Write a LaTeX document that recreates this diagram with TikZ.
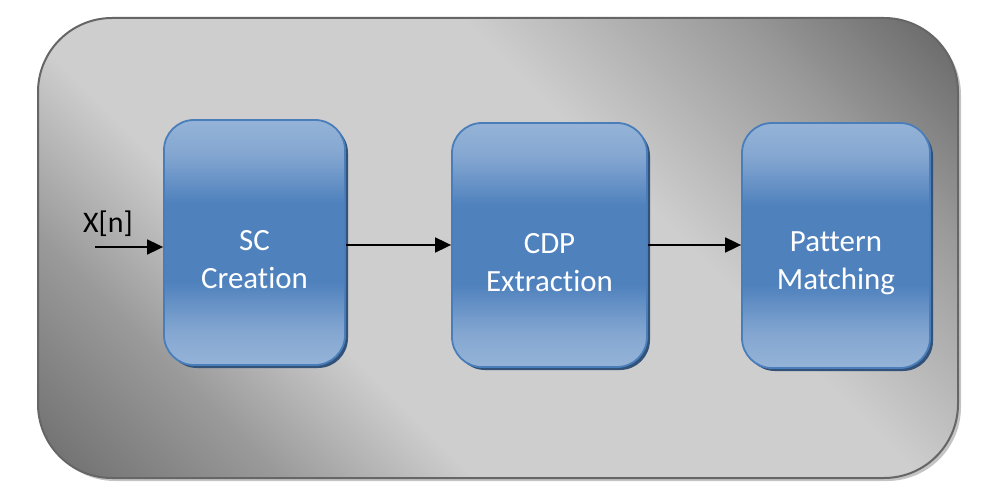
\documentclass[tikz,border=0pt]{standalone}
\usepackage{fontspec}
\setmainfont{Carlito}[Ligatures={NoCommon,NoRequired,NoContextual}]
\usetikzlibrary{arrows.meta,shadows,calc}
\definecolor{od}{HTML}{666666}
\definecolor{odl}{HTML}{6E6E6E}
\definecolor{om}{HTML}{9A9A9A}
\definecolor{ol}{HTML}{CECECE}
\definecolor{oedge}{HTML}{666666}
\definecolor{oshadow}{HTML}{C4C4C4}
\definecolor{bl}{HTML}{95B3D7}
\definecolor{bd}{HTML}{4F81BD}
\definecolor{bedge}{HTML}{4A7EBB}
\definecolor{bshadow}{HTML}{33527A}
\pgfdeclareverticalshading{outergrad}{100bp}{color(0bp)=(odl); color(15bp)=(odl); color(27bp)=(om); color(37bp)=(ol); color(60bp)=(ol); color(74bp)=(om); color(85bp)=(od); color(100bp)=(od)}
\pgfdeclareverticalshading{boxgrad}{100bp}{color(0bp)=(bl); color(25bp)=(bl); color(32bp)=(bl!75!bd); color(42bp)=(bd); color(58bp)=(bd); color(68bp)=(bl!75!bd); color(75bp)=(bl); color(100bp)=(bl)}
\tikzset{
  blk/.style={draw=bedge, line width=1.8bp, rounded corners=30bp, shading=boxgrad,
    drop shadow={shadow xshift=3bp, shadow yshift=-3bp, fill=bshadow, opacity=1},
    inner sep=0pt},
  lbl/.style={text=white, align=center, font=\fontsize{31}{38}\selectfont, inner sep=0pt},
  arr/.style={-{Triangle[length=16bp,width=15bp]}, line width=1.8bp, black},
}
\begin{document}
\begin{tikzpicture}[x=1bp,y=-1bp]
\useasboundingbox (0,0) rectangle (1006,501);
% outer panel
\fill[oshadow, rounded corners=74bp] (41,21) rectangle (961,481);
\shade[shading=outergrad, shading angle=-45, rounded corners=74bp] (38,18) rectangle (958,478);
\draw[oedge, line width=2bp, rounded corners=74bp] (38,18) rectangle (958,478);
% blocks
\node[blk, minimum width=181bp, minimum height=245bp] (sc) at (254.5,242.5) {};
\node[blk, minimum width=195bp, minimum height=244bp] (cdp) at (549.5,245) {};
\node[blk, minimum width=188bp, minimum height=245bp] (pm) at (836,245.5) {};
\node[lbl] (sct) at ($(sc.center)+(0,17.5)$) {SC\\Creation};
\node[lbl] (cdpt) at ($(cdp.center)+(0,18)$) {CDP\\Extraction};
\node[lbl] (pmt) at ($(pm.center)+(0,17.5)$) {Pattern\\Matching};
% input
\coordinate (xin) at (95,247);
\node[font=\fontsize{30}{37}\selectfont, inner sep=0pt] (xl) at (108,224) {X[n]};
\draw[arr] (xin) -- (xin -| sc.west);
\draw[arr] (sc.east |- 0,245) -- (cdp.west |- 0,245);
\draw[arr] (cdp.east |- 0,245) -- (pm.west |- 0,245);
\end{tikzpicture}
\end{document}
